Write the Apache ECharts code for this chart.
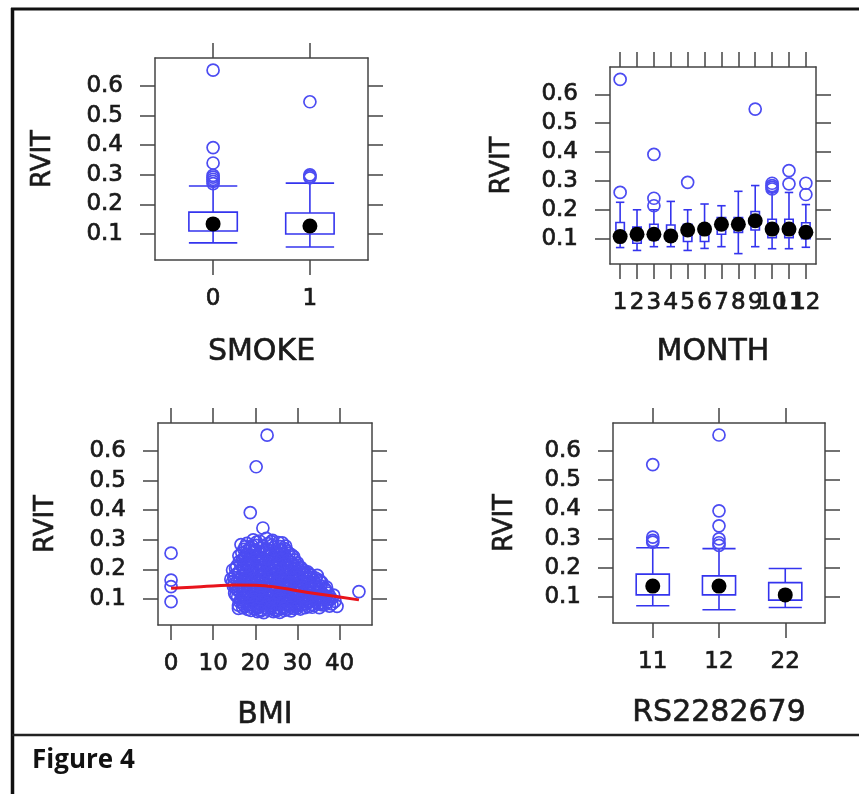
<!DOCTYPE html>
<html>
<head>
	<meta charset="UTF-8">
	<title>Figure 4</title>
	<style>
		html,body{margin:0;padding:0;background:#fff;}
		#chart{width:859px;height:794px;}
	</style>
</head>
<body>
<div id="chart"></div>
<script src="https://cdn.jsdelivr.net/npm/echarts@6/dist/echarts.min.js"></script>
<script>
	// y axis (RVIT) shared by all four panels
	var yTicks = [0.1, 0.2, 0.3, 0.4, 0.5, 0.6];

	// boxes: [x, lower whisker, Q1, median, Q3, upper whisker]
	var smokeLabels = ['0', '1'];
	var smokeBoxes = [
		[1, 0.070, 0.110, 0.134, 0.174, 0.262],
		[2, 0.056, 0.100, 0.127, 0.171, 0.272]
	];
	var smokeOutliers = [[1,0.654],[1,0.392],[1,0.340],[1,0.298],[1,0.292],[1,0.285],[1,0.278],[1,0.270],
		[2,0.547],[2,0.300],[2,0.295],[2,0.290]];

	var monthLabels = ['1','2','3','4','5','6','7','8','9','10','11','12'];
	var monthBoxes = [
		[1, 0.069, 0.095, 0.107, 0.156, 0.226],
		[2, 0.059, 0.084, 0.115, 0.140, 0.200],
		[3, 0.072, 0.095, 0.115, 0.150, 0.200],
		[4, 0.072, 0.092, 0.109, 0.147, 0.229],
		[5, 0.059, 0.090, 0.130, 0.150, 0.200],
		[6, 0.066, 0.090, 0.133, 0.150, 0.220],
		[7, 0.072, 0.115, 0.150, 0.173, 0.214],
		[8, 0.048, 0.121, 0.150, 0.173, 0.264],
		[9, 0.072, 0.130, 0.162, 0.194, 0.284],
		[10, 0.065, 0.103, 0.133, 0.167, 0.262],
		[11, 0.065, 0.103, 0.133, 0.167, 0.260],
		[12, 0.070, 0.100, 0.122, 0.155, 0.218]
	];
	var monthOutliers = [[1,0.652],[1,0.260],[3,0.392],[3,0.240],[3,0.214],[5,0.295],[9,0.549],
		[10,0.292],[10,0.284],[10,0.278],[10,0.272],[11,0.336],[11,0.290],[12,0.292],[12,0.253]];

	var rsLabels = ['11', '12', '22'];
	var rsBoxes = [
		[1, 0.071, 0.108, 0.138, 0.179, 0.269],
		[2, 0.057, 0.108, 0.138, 0.173, 0.266],
		[3, 0.065, 0.090, 0.108, 0.150, 0.198]
	];
	var rsOutliers = [[1,0.553],[1,0.305],[1,0.294],[1,0.288],
		[2,0.654],[2,0.395],[2,0.344],[2,0.299],[2,0.286],[2,0.277]];

	var bmiTicks = [0, 10, 20, 30, 40];
	var bmiPoints = [
		[0,0.255],[0,0.164],[0,0.142],[0,0.091],[18.8,0.392],[20.2,0.547],[22.8,0.654],[21.8,0.340],[44.6,0.125],
		[19.5,0.300],[21.0,0.296],[22.6,0.305],[24.1,0.298],[25.5,0.291],
		[16.6,0.284],[18.0,0.288],[20.2,0.281],[23.0,0.287],[26.4,0.290],[27.2,0.279],
		[17.3,0.268],[18.8,0.273],[20.0,0.266],[21.5,0.272],[22.8,0.269],[24.6,0.275],[25.8,0.264],[27.0,0.270],
		[16.8,0.256],[18.2,0.251],[19.4,0.258],[21.0,0.253],[22.3,0.259],[23.7,0.250],[25.1,0.257],[26.6,0.252],[28.0,0.254],
		[17.5,0.241],[18.7,0.237],[20.6,0.243],[21.9,0.238],[23.4,0.244],[24.8,0.236],[26.2,0.240],[27.5,0.235],[29.1,0.243],
		[16.2,0.226],[17.9,0.222],[19.3,0.228],[20.8,0.221],[22.5,0.227],[24.0,0.223],[25.5,0.229],[27.0,0.220],[28.4,0.225],[30.0,0.222],
		[15.6,0.211],[17.0,0.207],[18.5,0.213],[20.0,0.209],[21.4,0.206],[23.1,0.212],[24.6,0.208],[26.0,0.214],[27.7,0.205],[29.2,0.210],[30.8,0.207],
		[14.6,0.198],[16.3,0.193],[17.8,0.196],[19.4,0.191],[20.9,0.197],[22.2,0.192],[23.8,0.199],[25.3,0.194],[26.9,0.190],[28.3,0.196],[29.8,0.193],[31.5,0.197],[32.4,0.192],
		[15.2,0.181],[16.9,0.177],[18.4,0.183],[19.8,0.178],[21.5,0.182],[23.0,0.176],[24.5,0.180],[25.9,0.184],[27.4,0.178],[28.9,0.181],[30.5,0.176],[31.9,0.182],[33.3,0.179],[34.7,0.180],
		[14.2,0.167],[15.8,0.162],[17.4,0.166],[18.9,0.161],[20.3,0.168],[21.8,0.163],[23.4,0.165],[24.9,0.160],[26.3,0.167],[27.9,0.162],[29.4,0.166],[30.9,0.161],[32.3,0.168],[33.8,0.163],[35.2,0.164],
		[15.0,0.151],[16.5,0.147],[18.0,0.152],[19.6,0.148],[21.1,0.153],[22.7,0.146],[24.2,0.150],[25.6,0.154],[27.1,0.147],[28.6,0.151],[30.2,0.146],[31.6,0.152],[33.0,0.148],[34.5,0.150],[35.8,0.155],
		[15.4,0.136],[16.9,0.132],[18.5,0.137],[20.0,0.131],[21.6,0.138],[23.2,0.133],[24.6,0.135],[26.1,0.130],[27.7,0.137],[29.1,0.132],[30.7,0.136],[32.2,0.131],[33.6,0.137],[35.1,0.133],[36.5,0.135],
		[15.1,0.119],[16.4,0.123],[17.9,0.118],[19.4,0.122],[20.9,0.117],[22.4,0.121],[24.0,0.124],[25.5,0.118],[27.0,0.122],[28.5,0.117],[30.0,0.121],[31.4,0.124],[32.9,0.119],[34.4,0.122],[35.9,0.118],[37.3,0.120],[38.6,0.113],
		[15.8,0.106],[17.2,0.102],[18.8,0.107],[20.3,0.101],[21.8,0.108],[23.3,0.103],[24.9,0.105],[26.4,0.100],[27.8,0.107],[29.4,0.102],[30.9,0.106],[32.4,0.101],[33.8,0.108],[35.3,0.103],[36.8,0.105],[38.0,0.100],
		[16.3,0.091],[17.7,0.088],[19.2,0.093],[20.7,0.087],[22.2,0.092],[23.7,0.089],[25.2,0.094],[26.8,0.088],[28.3,0.091],[29.7,0.086],[31.3,0.092],[32.8,0.089],[34.2,0.093],[35.7,0.087],[37.2,0.090],[38.9,0.092],
		[16.0,0.079],[17.5,0.076],[19.0,0.080],[20.6,0.075],[22.1,0.079],[23.6,0.077],[25.1,0.081],[26.6,0.075],[28.1,0.078],[29.6,0.076],[31.0,0.080],[32.6,0.074],[34.0,0.078],[35.9,0.080],[37.6,0.076],[39.4,0.075],
		[16.0,0.068],[18.2,0.065],[19.8,0.067],[21.4,0.063],[22.9,0.066],[24.5,0.064],[26.0,0.067],[27.6,0.065],[29.2,0.068],[30.7,0.066],
		[20.5,0.057],[22.0,0.054],[24.3,0.057],[25.8,0.055],
		[20.3,0.292],[23.8,0.294],
		[17.6,0.277],[19.2,0.280],[21.8,0.279],[24.0,0.282],[25.9,0.277],
		[17.9,0.262],[19.6,0.264],[21.2,0.261],[23.4,0.263],[24.8,0.260],[26.2,0.265],[27.6,0.261],
		[16.1,0.246],[17.6,0.248],[19.0,0.245],[20.3,0.249],[22.9,0.247],[24.3,0.245],[25.7,0.248],[27.1,0.246],[28.6,0.249],
		[16.9,0.233],[18.3,0.230],[19.9,0.234],[21.6,0.231],[23.2,0.233],[24.7,0.230],[26.3,0.234],[27.8,0.231],[29.3,0.232],
		[16.5,0.218],[18.0,0.215],[19.6,0.219],[21.9,0.216],[23.8,0.218],[25.4,0.215],[26.9,0.219],[28.6,0.216],[30.1,0.214],
		[15.3,0.203],[17.2,0.200],[18.9,0.204],[20.5,0.201],[22.0,0.203],[23.6,0.200],[25.0,0.204],[26.5,0.201],[28.0,0.203],[29.6,0.200],[31.0,0.202],
		[15.9,0.188],[17.5,0.186],[19.0,0.189],[20.6,0.185],[22.3,0.188],[23.7,0.186],[25.2,0.189],[26.6,0.185],[28.1,0.188],[29.7,0.186],[31.2,0.189],[32.8,0.185],
		[14.9,0.173],[16.4,0.171],[18.0,0.174],[19.6,0.170],[21.1,0.173],[22.6,0.171],[24.1,0.174],[25.6,0.170],[27.1,0.173],[28.6,0.171],[30.1,0.174],[31.6,0.170],[33.0,0.173],[34.3,0.171],
		[14.6,0.158],[16.2,0.156],[17.8,0.159],[19.3,0.155],[20.8,0.158],[22.3,0.156],[23.8,0.159],[25.2,0.155],[26.8,0.158],[28.3,0.156],[29.8,0.159],[31.2,0.155],[32.7,0.158],[34.1,0.156],[35.5,0.159],
		[14.8,0.143],[16.0,0.141],[17.4,0.144],[19.0,0.140],[20.6,0.143],[22.1,0.141],[23.6,0.144],[25.1,0.140],[26.6,0.143],[28.0,0.141],[29.6,0.144],[31.0,0.140],[32.5,0.143],[34.0,0.141],[35.5,0.144],[36.9,0.140],
		[15.9,0.128],[17.3,0.126],[18.9,0.129],[20.4,0.125],[21.9,0.128],[23.5,0.126],[25.0,0.129],[26.4,0.125],[28.0,0.128],[29.5,0.126],[31.0,0.129],[32.4,0.125],[33.9,0.128],[35.4,0.126],[36.8,0.129],
		[15.4,0.112],[16.9,0.110],[18.4,0.113],[19.9,0.109],[21.4,0.112],[22.9,0.110],[24.4,0.113],[25.9,0.109],[27.4,0.112],[28.9,0.110],[30.4,0.113],[31.9,0.109],[33.4,0.112],[34.9,0.110],[36.3,0.113],[37.7,0.109],
		[16.6,0.098],[18.1,0.096],[19.6,0.099],[21.1,0.095],[22.6,0.098],[24.1,0.096],[25.6,0.099],[27.1,0.095],[28.6,0.098],[30.1,0.096],[31.6,0.099],[33.1,0.095],[34.6,0.098],[36.1,0.096],[37.5,0.099],
		[17.0,0.084],[18.4,0.082],[19.9,0.085],[21.4,0.081],[22.9,0.084],[24.4,0.082],[25.9,0.085],[27.4,0.081],[28.9,0.084],[30.4,0.082],[31.9,0.085],[33.4,0.081],[35.0,0.084],[36.6,0.082],[38.2,0.083],
		[17.0,0.071],[18.9,0.072],[20.5,0.069],[22.1,0.072],[23.7,0.070],[25.3,0.071],[26.8,0.069],[28.4,0.072],[30.0,0.070],[31.8,0.071],[33.5,0.072],[35.2,0.071],
		[19.0,0.061],[21.2,0.059],[23.2,0.061],[25.0,0.060],[26.9,0.061],[28.5,0.060]
	];
	// loess line
	var bmiFit = [[0,0.136],[5,0.140],[10,0.144],[15,0.147],[20,0.146],[25,0.140],[30,0.128],[35,0.117],[40,0.107],[44.6,0.097]];

	var frameColor = '#444';
	var textColor = '#1a1a1a';
	var boxColor = '#3434ee';
	var ringColor = '#4c4cf2';
	var fontFam = '"DejaVu Sans", sans-serif';

	var myChart = echarts.init(document.getElementById('chart'));

	function catFormatter(labels){
		return function(v){ return labels[Math.round(v) - 1]; };
	}

	function tickLabel(values, fmt){
		return {customValues:values, margin:28, fontSize:23, color:textColor, fontFamily:fontFam,
			textBorderColor:textColor, textBorderWidth:0.7, hideOverlap:false,
			showMinLabel:true, showMaxLabel:true, formatter:fmt};
	}

	// bottom + top x axes of a panel
	function xAxes(g, min, max, ticks, labelValues, fmt, name, gap){
		var line = {show:true, onZero:false, lineStyle:{color:frameColor, width:1.5}};
		var tick = {show:true, length:15, customValues:ticks, lineStyle:{color:frameColor, width:1.5}};
		return [{
			type:'value', gridIndex:g, position:'bottom', min:min, max:max,
			axisLine:line, axisTick:tick, splitLine:{show:false}, axisLabel:tickLabel(labelValues, fmt),
			name:name, nameLocation:'middle', nameGap:gap,
			nameTextStyle:{fontSize:30, color:textColor, fontFamily:fontFam, textBorderColor:textColor, textBorderWidth:0.6}
		},{
			type:'value', gridIndex:g, position:'top', min:min, max:max,
			axisLine:line, axisTick:tick, splitLine:{show:false}, axisLabel:{show:false}
		}];
	}

	// left + right y axes of a panel
	function yAxes(g, gap){
		var line = {show:true, onZero:false, lineStyle:{color:frameColor, width:1.5}};
		var tick = {show:true, length:15, customValues:yTicks, lineStyle:{color:frameColor, width:1.5}};
		return [{
			type:'value', gridIndex:g, position:'left', min:0.012, max:0.695,
			axisLine:line, axisTick:tick, splitLine:{show:false},
			axisLabel:{customValues:yTicks, margin:32, fontSize:23, color:textColor, fontFamily:fontFam,
				textBorderColor:textColor, textBorderWidth:0.7, hideOverlap:false,
				showMinLabel:true, showMaxLabel:true,
				formatter:function(v){ return v.toFixed(1); }},
			name:'RVIT', nameLocation:'middle', nameGap:gap, nameRotate:90,
			nameTextStyle:{fontSize:26, color:textColor, fontFamily:fontFam, textBorderColor:textColor, textBorderWidth:0.6}
		},{
			type:'value', gridIndex:g, position:'right', min:0.012, max:0.695,
			axisLine:line, axisTick:tick, splitLine:{show:false}, axisLabel:{show:false}
		}];
	}

	function renderBox(params, api){
		var x = api.value(0);
		var lo = api.coord([x, api.value(1)]);
		var q1 = api.coord([x, api.value(2)]);
		var q3 = api.coord([x, api.value(4)]);
		var hi = api.coord([x, api.value(5)]);
		var left = api.coord([x - 0.25, api.value(2)])[0];
		var right = api.coord([x + 0.25, api.value(2)])[0];
		var st = {stroke:boxColor, lineWidth:1.6, fill:'none'};
		return {type:'group', children:[
			{type:'rect', shape:{x:left, y:q3[1], width:right - left, height:q1[1] - q3[1]}, style:st},
			{type:'line', shape:{x1:q3[0], y1:q3[1], x2:hi[0], y2:hi[1]}, style:st},
			{type:'line', shape:{x1:lo[0], y1:lo[1], x2:q1[0], y2:q1[1]}, style:st},
			{type:'line', shape:{x1:left, y1:hi[1], x2:right, y2:hi[1]}, style:st},
			{type:'line', shape:{x1:left, y1:lo[1], x2:right, y2:lo[1]}, style:st}
		]};
	}

	function boxSeries(g, boxes, outliers){
		var medians = boxes.map(function(b){ return [b[0], b[3]]; });
		return [{
			type:'custom', xAxisIndex:2 * g, yAxisIndex:2 * g, renderItem:renderBox,
			encode:{x:0, y:[1,2,3,4,5]}, data:boxes, silent:true
		},{
			type:'scatter', xAxisIndex:2 * g, yAxisIndex:2 * g, symbol:'circle', symbolSize:12,
			itemStyle:{color:'rgba(0,0,0,0)', borderColor:ringColor, borderWidth:1.7, opacity:1},
			data:outliers, silent:true
		},{
			type:'scatter', xAxisIndex:2 * g, yAxisIndex:2 * g, symbol:'circle', symbolSize:15,
			itemStyle:{color:'#000', opacity:1}, data:medians, silent:true
		}];
	}

	var monthTicks = [1,2,3,4,5,6,7,8,9,10,11,12];
	var xAxis = [].concat(
		xAxes(0, 0.4, 2.6, [1,2], [1,2], catFormatter(smokeLabels), 'SMOKE', 77),
		// month labels crowd each other: odd ones here, even ones on the extra axis below
		xAxes(1, 0.4, 12.6, monthTicks, [1,3,5,7,9,11], catFormatter(monthLabels), 'MONTH', 73),
		xAxes(2, -3.1, 47.7, bmiTicks, bmiTicks, function(v){ return String(v); }, 'BMI', 75),
		xAxes(3, 0.4, 3.6, [1,2,3], [1,2,3], catFormatter(rsLabels), 'RS2282679', 75),
		[{
			type:'value', gridIndex:1, position:'bottom', offset:0, min:0.4, max:12.6,
			axisLine:{show:false, onZero:false}, axisTick:{show:false}, splitLine:{show:false},
			axisLabel:tickLabel([2,4,6,8,10,12], catFormatter(monthLabels))
		}]
	);
	var yAxis = [].concat(yAxes(0, 99), yAxes(1, 95), yAxes(2, 99), yAxes(3, 95));

	var series = [].concat(
		boxSeries(0, smokeBoxes, smokeOutliers),
		boxSeries(1, monthBoxes, monthOutliers),
		[{
			type:'scatter', xAxisIndex:4, yAxisIndex:4, symbol:'circle', symbolSize:12,
			itemStyle:{color:'rgba(0,0,0,0)', borderColor:ringColor, borderWidth:1.7, opacity:1},
			data:bmiPoints, silent:true
		},{
			type:'line', xAxisIndex:4, yAxisIndex:4, smooth:true, symbol:'none',
			lineStyle:{color:'#e8141c', width:3}, data:bmiFit, silent:true
		}],
		boxSeries(3, rsBoxes, rsOutliers)
	);

	var option = {
		animation:false,
		backgroundColor:'#fff',
		grid:[
			{left:155, top:58, width:213, height:202, outerBoundsMode:'none'},
			{left:610, top:67, width:206, height:197, outerBoundsMode:'none'},
			{left:158, top:423, width:214, height:202, outerBoundsMode:'none'},
			{left:613, top:423, width:212, height:200, outerBoundsMode:'none'}
		],
		xAxis:xAxis,
		yAxis:yAxis,
		series:series,
		graphic:[
			{type:'line', shape:{x1:11, y1:9, x2:859, y2:9}, style:{stroke:'#111', lineWidth:3}},
			{type:'line', shape:{x1:12.5, y1:8, x2:12.5, y2:794}, style:{stroke:'#111', lineWidth:3.5}},
			{type:'line', shape:{x1:12, y1:735, x2:859, y2:735}, style:{stroke:'#222', lineWidth:2.5}},
			{type:'text', left:32, top:748, style:{text:'Figure 4', font:'bold 26px "Open Sans"', fill:'#111'}}
		]
	};
	myChart.setOption(option);
	window.onresize = myChart.resize;
</script>
</body>
</html>
